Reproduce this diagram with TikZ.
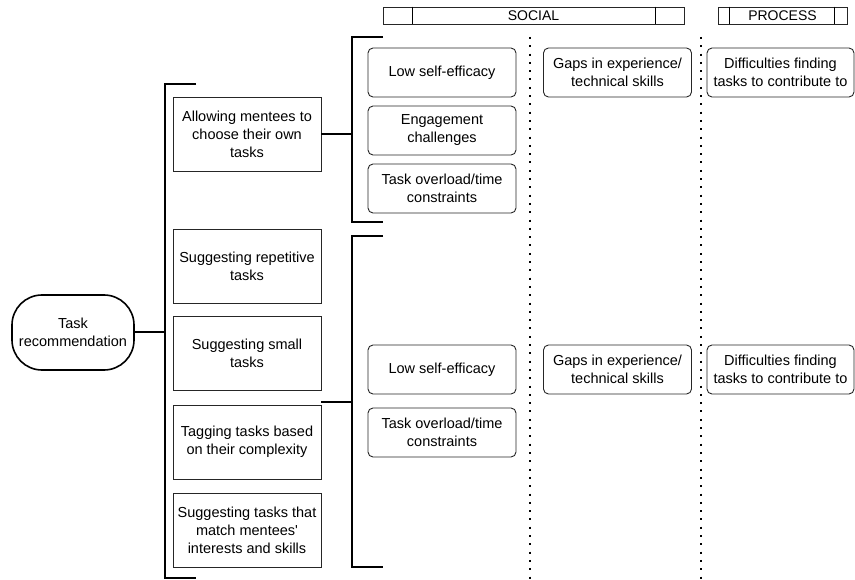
\documentclass[tikz,border=0pt]{standalone}
\usepackage{fontspec}
\setmainfont{Liberation Sans}
\usetikzlibrary{calc}

\begin{document}
\begin{tikzpicture}[x=1pt,y=-1pt,
  txt/.style={font=\fontsize{14.5}{18}\selectfont,align=center,inner sep=0pt},
  strat/.style={txt,draw=black!85,line width=0.9pt,minimum width=148pt,minimum height=74pt},
  chal/.style={txt,draw=black!85,line width=0.9pt,rounded corners=5pt,minimum width=148pt,minimum height=49pt},
  hdr/.style={txt,font=\fontsize{14}{16}\selectfont,draw=black!85,line width=0.9pt,minimum height=17pt},
  brk/.style={line width=2pt},
  sep/.style={line width=2pt,dash pattern=on 2pt off 6.3pt}]
\useasboundingbox (0,0) rectangle (855,580);

% headers
\node[hdr,minimum width=301pt] (social) at (533.5,15.5) {SOCIAL};
\draw[line width=0.9pt] ($(social.north west)+(30,0)$) -- ($(social.south west)+(30,0)$);
\draw[line width=0.9pt] ($(social.north east)-(29,0)$) -- ($(social.south east)-(29,0)$);
\node[hdr,minimum width=129pt] (process) at (782.5,15.5) {PROCESS};
\draw[line width=0.9pt] ($(process.north west)+(12,0)$) -- ($(process.south west)+(12,0)$);
\draw[line width=0.9pt] ($(process.north east)-(13,0)$) -- ($(process.south east)-(13,0)$);

% column separators
\draw[sep] (530,37) -- (530,580);
\draw[sep] (701,37) -- (701,580);

% root
\node[txt,draw,line width=1.6pt,rounded corners=30pt,minimum width=122pt,minimum height=75pt] (root) at (73,332.5) {Task\\recommendation};

% strategies
\node[strat] (s1) at (247,134) {Allowing mentees to\\choose their own\\tasks};
\node[strat] (s2) at (247,266) {Suggesting repetitive\\tasks};
\node[strat] (s3) at (247,353) {Suggesting small\\tasks};
\node[strat] (s4) at (247,442) {Tagging tasks based\\on their complexity};
\node[strat] (s5) at (247,530.5) {Suggesting tasks that\\match mentees\textquotesingle\\interests and skills};

% challenges, first group
\node[chal] (c1) at (442,72.5) {Low self-efficacy};
\node[chal] (c2) at (442,130.5) {Engagement\\challenges};
\node[chal] (c3) at (442,188.5) {Task overload/time\\constraints};
\node[chal] (g1) at (617.5,72.5) {Gaps in experience/\\technical skills};
\node[chal,minimum width=147pt] (d1) at (780.5,72.5) {Difficulties finding\\tasks to contribute to};

% challenges, second group
\node[chal] (c4) at (442,369.5) {Low self-efficacy};
\node[chal] (c5) at (442,432.5) {Task overload/time\\constraints};
\node[chal] (g2) at (617.5,369.5) {Gaps in experience/\\technical skills};
\node[chal,minimum width=147pt] (d2) at (780.5,369.5) {Difficulties finding\\tasks to contribute to};

% brackets
\coordinate (bigtop) at (165,84);
\coordinate (bigbot) at (165,578);
\coordinate (uptop) at (352,37);
\coordinate (upbot) at (352,222);
\coordinate (lotop) at (352,236);
\coordinate (lobot) at (352,567);
\coordinate (lojoin) at (321,402);

\draw[brk] ($(bigtop)+(31,0)$) -- (bigtop) -- (bigbot) -- ++(31,0);
\draw[brk] ($(uptop)+(31,0)$) -- (uptop) -- (upbot) -- ++(31,0);
\draw[brk] ($(lotop)+(31,0)$) -- (lotop) -- (lobot) -- ++(31,0);

\draw[brk] (root.east) -- (root.east -| bigtop);
\draw[brk] (s1.east) -- (s1.east -| uptop);
\draw[brk] (lojoin) -- (lojoin -| lotop);
\end{tikzpicture}
\end{document}
